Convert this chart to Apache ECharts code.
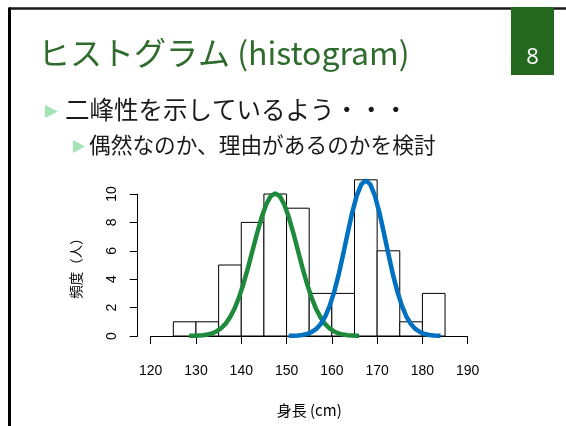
<!DOCTYPE html>
<html>
<head>
<meta charset="utf-8">
<script src="https://cdn.jsdelivr.net/npm/echarts@6/dist/echarts.min.js"></script>
<style>
html,body{margin:0;padding:0;background:#fff;}
#chart{width:566px;height:426px;}
</style>
</head>
<body>
<div id="chart"></div>
<script>
// ---- data ----
var binStarts = [125, 130, 135, 140, 145, 150, 155, 160, 165, 170, 175, 180];
var binWidth = 5;
var counts = [1, 1, 5, 8, 10, 9, 3, 3, 11, 6, 1, 3];

var greenX = [128.5,129.5,130.5,131.5,132.5,133.5,134.5,135.5,136.5,137.5,138.5,139.5,140.5,141.5,142.5,143.5,144.5,145.5,146.5,147.5,148.5,149.5,150.5,151.5,152.5,153.5,154.5,155.5,156.5,157.5,158.5,159.5,160.5,161.5,162.5,163.5,164.5,165.5,166];
var greenY = [0.01,0.01,0.03,0.05,0.10,0.18,0.32,0.53,0.85,1.31,1.92,2.72,3.70,4.82,6.04,7.25,8.36,9.26,9.85,10.05,9.85,9.26,8.36,7.25,6.04,4.82,3.70,2.72,1.92,1.31,0.85,0.53,0.32,0.18,0.10,0.05,0.03,0.01,0.01];

var blueX = [150.5,151.5,152.5,153.5,154.5,155.5,156.5,157.5,158.5,159.5,160.5,161.5,162.5,163.5,164.5,165.5,166.5,167.5,168.5,169.5,170.5,171.5,172.5,173.5,174.5,175.5,176.5,177.5,178.5,179.5,180.5,181.5,182.5,183.5,184];
var blueY = [0.01,0.02,0.03,0.07,0.14,0.27,0.48,0.83,1.35,2.10,3.09,4.32,5.75,7.25,8.69,9.88,10.68,10.96,10.68,9.88,8.69,7.25,5.75,4.32,3.09,2.10,1.35,0.83,0.48,0.27,0.14,0.07,0.03,0.02,0.01];

var xTicks = [120, 190, 10];   // min, max, interval
var yTicks = [0, 10, 2];

var titleText = 'ヒストグラム (histogram)';
var bullet1 = '二峰性を示しているよう・・・';
var bullet2 = '偶然なのか、理由があるのかを検討';
var pageNo = '8';
var xName = '身長 (cm)';
var yName = '頻度（人）';

// ---- build ----
var histData = binStarts.map(function (s, i) { return [s, s + binWidth, counts[i]]; });
function pairs(xs, ys) { return xs.map(function (x, i) { return [x, ys[i]]; }); }

var chart = echarts.init(document.getElementById('chart'), null, {renderer: 'canvas'});
var latin = 'Liberation Sans';
var cjk = 'Noto Sans CJK JP';

var option = {
  animation: false,
  backgroundColor: '#ffffff',
  grid: {left: 150.7, right: 98.3, top: 194, bottom: 90, containLabel: false},
  xAxis: {
    type: 'value', min: xTicks[0], max: xTicks[1], interval: xTicks[2],
    offset: 6,
    axisLine: {show: true, lineStyle: {color: '#000', width: 1}},
    axisTick: {show: true, inside: false, length: 8, lineStyle: {color: '#000'}},
    axisLabel: {show: true, margin: 22, fontSize: 14, color: '#000', fontFamily: latin},
    splitLine: {show: false},
    name: xName, nameLocation: 'middle', nameGap: 61,
    nameTextStyle: {fontSize: 15, color: '#000', fontFamily: cjk}
  },
  yAxis: {
    type: 'value', min: yTicks[0], max: yTicks[1], interval: yTicks[2],
    offset: 13,
    axisLine: {show: true, lineStyle: {color: '#000', width: 1}},
    axisTick: {show: true, inside: false, length: 8, lineStyle: {color: '#000'}},
    axisLabel: {show: true, rotate: 90, margin: 19, fontSize: 14, color: '#000', fontFamily: latin},
    splitLine: {show: false},
    name: yName, nameLocation: 'middle', nameGap: 55, nameRotate: 90,
    nameTextStyle: {fontSize: 13.5, color: '#000', fontFamily: cjk}
  },
  series: [
    {
      type: 'custom',
      clip: false,
      z: 2,
      data: histData,
      renderItem: function (params, api) {
        var p0 = api.coord([api.value(0), api.value(2)]);
        var p1 = api.coord([api.value(1), 0]);
        return {
          type: 'rect',
          shape: {x: p0[0], y: p0[1], width: p1[0] - p0[0], height: p1[1] - p0[1]},
          style: {fill: '#ffffff', stroke: '#000000', lineWidth: 1}
        };
      }
    },
    {
      type: 'line', data: pairs(greenX, greenY), clip: false, z: 3,
      showSymbol: false, symbol: 'none', smooth: false,
      lineStyle: {color: '#1e8a3c', width: 4.5, cap: 'butt'}
    },
    {
      type: 'line', data: pairs(blueX, blueY), clip: false, z: 3,
      showSymbol: false, symbol: 'none', smooth: false,
      lineStyle: {color: '#0070c0', width: 4.5, cap: 'butt'}
    }
  ],
  graphic: [
    // slide frame
    {type: 'line', shape: {x1: 9, y1: 8.5, x2: 566, y2: 8.5}, style: {stroke: '#1a1a1a', lineWidth: 2.5}, z: 10},
    {type: 'line', shape: {x1: 9.5, y1: 7.5, x2: 9.5, y2: 426}, style: {stroke: '#000', lineWidth: 3}, z: 10},
    // page number box
    {type: 'rect', shape: {x: 511, y: 7, width: 43, height: 68}, style: {fill: '#24681f'}, z: 11},
    {type: 'text', x: 532.5, y: 58, z: 12,
      style: {text: pageNo, fill: '#ffffff', font: '22px "Open Sans", sans-serif',
        align: 'center', verticalAlign: 'middle', textAlign: 'center', textVerticalAlign: 'middle'}},
    // title
    {type: 'text', x: 38, y: 53, z: 12,
      style: {text: titleText, fill: '#2e6b2c', font: '32px "Noto Sans CJK JP", sans-serif',
        align: 'left', verticalAlign: 'middle', textAlign: 'left', textVerticalAlign: 'middle'}},
    // bullets
    {type: 'polygon', shape: {points: [[45, 105], [58, 111.5], [45, 118]]}, style: {fill: '#a3e4b5'}, z: 12},
    {type: 'text', x: 65, y: 110, z: 12,
      style: {text: bullet1, fill: '#1a1a1a', font: '24.5px "Noto Sans CJK JP", sans-serif',
        align: 'left', verticalAlign: 'middle', textAlign: 'left', textVerticalAlign: 'middle'}},
    {type: 'polygon', shape: {points: [[73, 140], [85, 146.5], [73, 153]]}, style: {fill: '#a3e4b5'}, z: 12},
    {type: 'text', x: 89, y: 145, z: 12,
      style: {text: bullet2, fill: '#1a1a1a', font: '21.7px "Noto Sans CJK JP", sans-serif',
        align: 'left', verticalAlign: 'middle', textAlign: 'left', textVerticalAlign: 'middle'}}
  ]
};
chart.setOption(option);
</script>
</body>
</html>
